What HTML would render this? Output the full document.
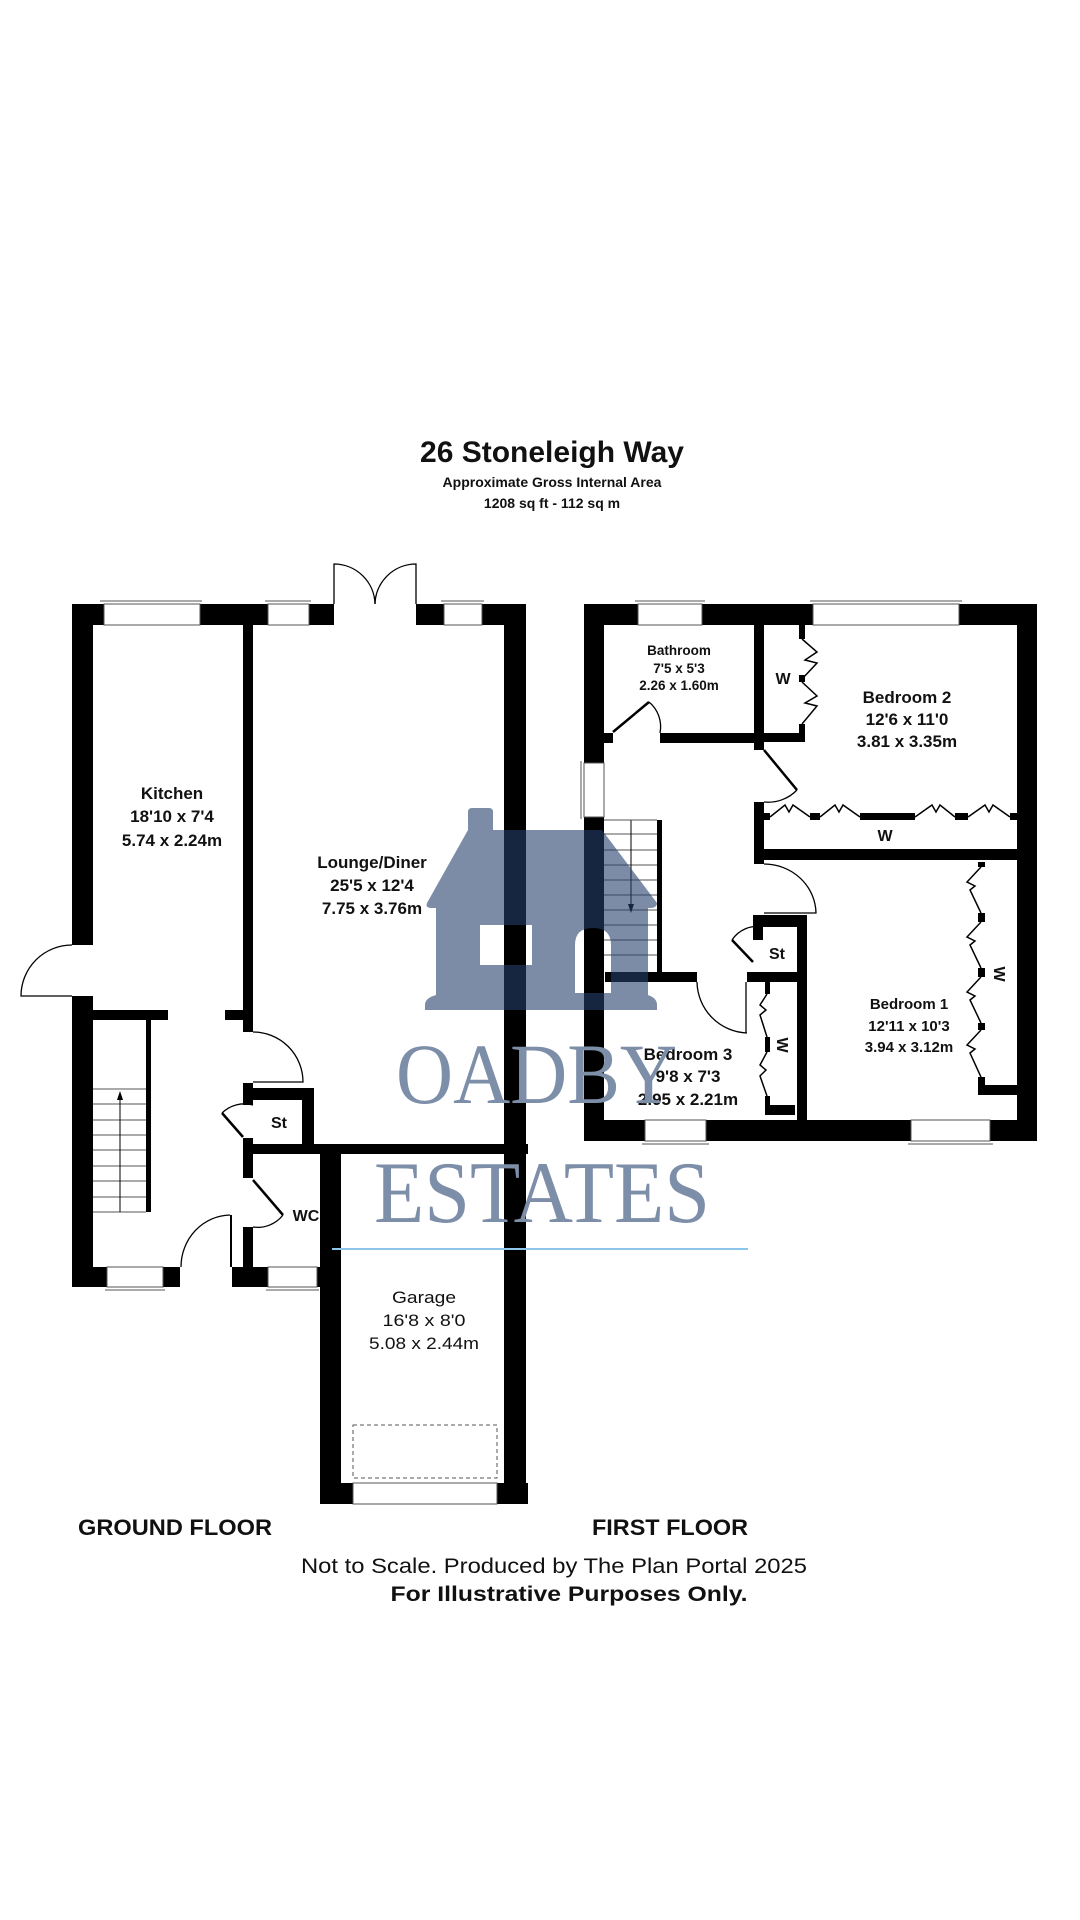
<!DOCTYPE html>
<html><head><meta charset="utf-8"><style>
html,body{margin:0;padding:0;background:#fff;}
svg{display:block;}
.b{font-weight:bold;fill:#111;}
</style></head><body>
<svg width="1080" height="1920" viewBox="0 0 1080 1920" xmlns="http://www.w3.org/2000/svg" font-family="'Liberation Sans', Arial, sans-serif">
<rect width="1080" height="1920" fill="#fff"/>

<!-- Title -->
<text x="552" y="462" text-anchor="middle" class="b" font-size="30">26 Stoneleigh Way</text>
<text x="552" y="487" text-anchor="middle" class="b" font-size="14">Approximate Gross Internal Area</text>
<text x="552" y="508" text-anchor="middle" class="b" font-size="14">1208 sq ft - 112 sq m</text>

<g fill="#000">
<!-- ===== GROUND FLOOR ===== -->
<rect x="72" y="604" width="454" height="21"/>
<rect x="72" y="604" width="21" height="341"/>
<rect x="72" y="996" width="21" height="291"/>
<rect x="72" y="1267" width="108" height="20"/>
<rect x="232" y="1267" width="108" height="20"/>
<rect x="243" y="625" width="10" height="407"/>
<rect x="93" y="1010" width="75" height="10"/>
<rect x="225" y="1010" width="28" height="10"/>
<rect x="146" y="1020" width="5" height="192"/>
<rect x="243" y="1083" width="10" height="22"/>
<rect x="243" y="1138" width="10" height="40"/>
<rect x="243" y="1088" width="71" height="12"/>
<rect x="302" y="1088" width="12" height="56"/>
<rect x="243" y="1144" width="285" height="10"/>
<rect x="243" y="1227" width="10" height="60"/>
<rect x="230" y="1215" width="2" height="52"/>
<rect x="320" y="1144" width="21" height="360"/>
<rect x="504" y="604" width="22" height="900"/>
<rect x="320" y="1483" width="208" height="21"/>

<!-- ===== FIRST FLOOR ===== -->
<rect x="584" y="604" width="453" height="21"/>
<rect x="584" y="604" width="20" height="537"/>
<rect x="1017" y="604" width="20" height="537"/>
<rect x="584" y="1120" width="453" height="21"/>
<rect x="754" y="625" width="10" height="125"/>
<rect x="660" y="733" width="104" height="10"/>
<rect x="604" y="733" width="9" height="10"/>
<rect x="764" y="733" width="41" height="9"/>
<rect x="799" y="625" width="6" height="14"/>
<rect x="799" y="724" width="6" height="18"/>
<rect x="799" y="675" width="6" height="7"/>
<rect x="754" y="802" width="10" height="62"/>
<rect x="754" y="849" width="263" height="11"/>
<rect x="764" y="813" width="6" height="7"/>
<rect x="810" y="813" width="10" height="7"/>
<rect x="860" y="813" width="55" height="7"/>
<rect x="955" y="813" width="13" height="7"/>
<rect x="1010" y="813" width="7" height="7"/>
<rect x="753" y="915" width="54" height="12"/>
<rect x="753" y="915" width="10" height="25"/>
<rect x="797" y="915" width="10" height="205"/>
<rect x="747" y="972" width="50" height="10"/>
<rect x="605" y="972" width="92" height="10"/>
<rect x="657" y="820" width="5" height="152"/>
<rect x="765" y="982" width="5" height="12"/>
<rect x="765" y="1037" width="5" height="15"/>
<rect x="765" y="1096" width="5" height="19"/>
<rect x="765" y="1105" width="30" height="10"/>
<rect x="978" y="862" width="7" height="5"/>
<rect x="978" y="913" width="7" height="9"/>
<rect x="978" y="968" width="7" height="9"/>
<rect x="978" y="1023" width="7" height="7"/>
<rect x="978" y="1077" width="7" height="18"/>
<rect x="978" y="1085" width="39" height="10"/>
</g>

<!-- windows -->
<g fill="#fff" stroke="#555" stroke-width="1">
<rect x="104" y="604" width="96" height="21"/>
<line x1="100" y1="601" x2="202" y2="601"/>
<rect x="268" y="604" width="41" height="21"/>
<line x1="265" y1="601" x2="311" y2="601"/>
<rect x="444" y="604" width="38" height="21"/>
<line x1="441" y1="601" x2="484" y2="601"/>
<rect x="107" y="1267" width="56" height="20"/>
<line x1="105" y1="1290" x2="165" y2="1290"/>
<rect x="268" y="1267" width="49" height="20"/>
<line x1="266" y1="1290" x2="319" y2="1290"/>
<rect x="353" y="1483" width="144" height="21"/>
<rect x="638" y="604" width="64" height="21"/>
<line x1="635" y1="601" x2="705" y2="601"/>
<rect x="813" y="604" width="146" height="21"/>
<line x1="810" y1="601" x2="962" y2="601"/>
<rect x="584" y="763" width="20" height="54"/>
<line x1="581" y1="761" x2="581" y2="819"/>
<rect x="645" y="1120" width="61" height="21"/>
<line x1="642" y1="1144" x2="709" y2="1144"/>
<rect x="911" y="1120" width="79" height="21"/>
<line x1="908" y1="1144" x2="993" y2="1144"/>
</g>
<rect x="334" y="604" width="82" height="21" fill="#fff"/>

<!-- doors -->
<g fill="none" stroke="#000" stroke-width="1.3">
<path d="M334 604 L334 564 A41 41 0 0 1 375 604"/>
<path d="M416 604 L416 564 A41 41 0 0 0 375 604"/>
<path d="M72 945 A51 51 0 0 0 21 996 L72 996"/>
<path d="M253 1032 A50 50 0 0 1 303 1082 L253 1082"/>
<path d="M222 1113 A32 32 0 0 1 253 1105"/>
<path d="M253 1227 A32 32 0 0 0 283 1215"/>
<path d="M230 1215 A50 52 0 0 0 181 1267"/>
<path d="M660 733 A32 32 0 0 0 649 702"/>
<path d="M764 864 A52 50 0 0 1 816 913 L764 913"/>
<path d="M764 802 A40 40 0 0 0 797 790"/>
<path d="M747 1033 A52 52 0 0 1 697 982"/>
<line x1="746" y1="982" x2="746" y2="1033"/>
<path d="M732 940 A30 30 0 0 1 763 927"/>
</g>
<g stroke="#000" stroke-width="2.5" fill="none">
<line x1="222" y1="1113" x2="243" y2="1137"/>
<line x1="253" y1="1180" x2="283" y2="1215"/>
<line x1="613" y1="732" x2="649" y2="702"/>
<line x1="764" y1="750" x2="797" y2="790"/>
<line x1="732" y1="940" x2="753" y2="962"/>
</g>

<!-- stairs ground -->
<g stroke="#555" stroke-width="1">
<line x1="93" y1="1089" x2="146" y2="1089"/><line x1="93" y1="1104" x2="146" y2="1104"/>
<line x1="93" y1="1120" x2="146" y2="1120"/><line x1="93" y1="1135" x2="146" y2="1135"/>
<line x1="93" y1="1150" x2="146" y2="1150"/><line x1="93" y1="1166" x2="146" y2="1166"/>
<line x1="93" y1="1181" x2="146" y2="1181"/><line x1="93" y1="1197" x2="146" y2="1197"/>
<line x1="93" y1="1212" x2="146" y2="1212"/>
<line x1="120" y1="1095" x2="120" y2="1212" stroke="#000"/>
</g>
<path d="M117 1100 L120 1091 L123 1100 Z" fill="#000"/>
<!-- stairs first -->
<g stroke="#555" stroke-width="1">
<line x1="604" y1="834" x2="657" y2="834"/><line x1="604" y1="850" x2="657" y2="850"/>
<line x1="604" y1="865" x2="657" y2="865"/><line x1="604" y1="880" x2="657" y2="880"/>
<line x1="604" y1="895" x2="657" y2="895"/><line x1="604" y1="910" x2="657" y2="910"/>
<line x1="604" y1="925" x2="657" y2="925"/><line x1="604" y1="940" x2="657" y2="940"/>
<line x1="604" y1="955" x2="657" y2="955"/>
<line x1="631" y1="820" x2="631" y2="910" stroke="#000"/>
<line x1="604" y1="820" x2="657" y2="820"/>
</g>
<path d="M628 904 L631 913 L634 904 Z" fill="#000"/>

<!-- wardrobe zigzags -->
<g fill="none" stroke="#000" stroke-width="1.5">
<path d="M802 639 L817 652 L805 660 L817 663 L802 679"/>
<path d="M802 682 L817 696 L805 703 L817 706 L802 724"/>
<path d="M770 817 L785 805 L789 812 L793 805 L810 817"/>
<path d="M820 817 L835 805 L839 812 L843 805 L860 817"/>
<path d="M915 817 L932 805 L936 812 L940 805 L955 817"/>
<path d="M968 817 L985 805 L989 812 L993 805 L1010 817"/>
<path d="M981 867 L967 882 L975 886 L970 890 L981 913"/>
<path d="M981 922 L967 937 L975 941 L970 945 L981 968"/>
<path d="M981 977 L967 992 L975 996 L970 1000 L981 1023"/>
<path d="M981 1030 L967 1045 L975 1049 L970 1053 L981 1077"/>
<path d="M767 994 L760 1005 L766 1010 L760 1015 L767 1037"/>
<path d="M767 1052 L760 1065 L766 1070 L760 1076 L767 1096"/>
</g>
<rect x="353" y="1425" width="144" height="53" fill="none" stroke="#555" stroke-width="1" stroke-dasharray="4,3"/>

<!-- room labels -->
<g text-anchor="middle" font-size="17">
<text x="172" y="799" class="b">Kitchen</text>
<text x="172" y="822" class="b">18'10 x 7'4</text>
<text x="172" y="846" class="b">5.74 x 2.24m</text>
<text x="372" y="868" class="b">Lounge/Diner</text>
<text x="372" y="891" class="b">25'5 x 12'4</text>
<text x="372" y="914" class="b">7.75 x 3.76m</text>
<text x="907" y="703" class="b">Bedroom 2</text>
<text x="907" y="725" class="b">12'6 x 11'0</text>
<text x="907" y="747" class="b">3.81 x 3.35m</text>
<text x="688" y="1060" class="b">Bedroom 3</text>
<text x="688" y="1082" class="b">9'8 x 7'3</text>
<text x="688" y="1105" class="b">2.95 x 2.21m</text>
</g>
<g text-anchor="middle">
<text x="679" y="655" class="b" font-size="13.5">Bathroom</text>
<text x="679" y="673" class="b" font-size="13.5">7'5 x 5'3</text>
<text x="679" y="690" class="b" font-size="13.5">2.26 x 1.60m</text>
<text x="909" y="1009" class="b" font-size="15">Bedroom 1</text>
<text x="909" y="1031" class="b" font-size="15">12'11 x 10'3</text>
<text x="909" y="1052" class="b" font-size="15">3.94 x 3.12m</text>
<text x="279" y="1128" class="b" font-size="16">St</text>
<text x="306" y="1221" class="b" font-size="16">WC</text>
<text x="777" y="959" class="b" font-size="16">St</text>
<text x="783" y="684" class="b" font-size="16">W</text>
<text x="885" y="841" class="b" font-size="16">W</text>
<text transform="translate(1000,974) rotate(90)" class="b" font-size="16" y="6">W</text>
<text transform="translate(783,1045) rotate(90)" class="b" font-size="16" y="6">W</text>
</g>
<g text-anchor="middle" fill="#111" style="font-family:'Liberation Sans Narrow','Liberation Sans',sans-serif">
<text x="424" y="1303" font-size="17" textLength="64" lengthAdjust="spacingAndGlyphs">Garage</text>
<text x="424" y="1326" font-size="17" textLength="83" lengthAdjust="spacingAndGlyphs">16'8 x 8'0</text>
<text x="424" y="1349" font-size="17" textLength="110" lengthAdjust="spacingAndGlyphs">5.08 x 2.44m</text>
<text x="175" y="1535" font-size="22" font-weight="bold" textLength="194" lengthAdjust="spacingAndGlyphs">GROUND FLOOR</text>
<text x="670" y="1535" font-size="22" font-weight="bold" textLength="156" lengthAdjust="spacingAndGlyphs">FIRST FLOOR</text>
<text x="554" y="1573" font-size="21" textLength="506" lengthAdjust="spacingAndGlyphs">Not to Scale. Produced by The Plan Portal 2025</text>
<text x="569" y="1601" font-size="21" font-weight="bold" textLength="357" lengthAdjust="spacingAndGlyphs">For Illustrative Purposes Only.</text>
</g>

<!-- watermark -->
<g opacity="0.6">
<path fill="#25406b" fill-rule="evenodd" d="M468 830 L468 812 Q468 808 472 808 L489 808 Q493 808 493 812 L493 830 L602 830 L657 903 Q657 908 650 908 L648 908 L648 995 Q657 998 657 1005 L657 1010 L425 1010 L425 1005 Q425 998 436 995 L436 908 L432 908 Q425 908 427 903 Z
M480 925 L532 925 L532 965 L480 965 Z
M575 993 L575 945 Q575 928 593 928 Q611 928 611 945 L611 993 Z"/>
</g>
<g fill="#7d8ea9" style="font-family:'Liberation Serif','Times New Roman',serif">
<text x="396" y="1103" font-size="86" textLength="281" lengthAdjust="spacingAndGlyphs">OADBY</text>
<text x="374" y="1222" font-size="88" textLength="336" lengthAdjust="spacingAndGlyphs">ESTATES</text>
</g>
<line x1="332" y1="1249" x2="748" y2="1249" stroke="#8cc6ea" stroke-width="2"/>
</svg>
</body></html>
